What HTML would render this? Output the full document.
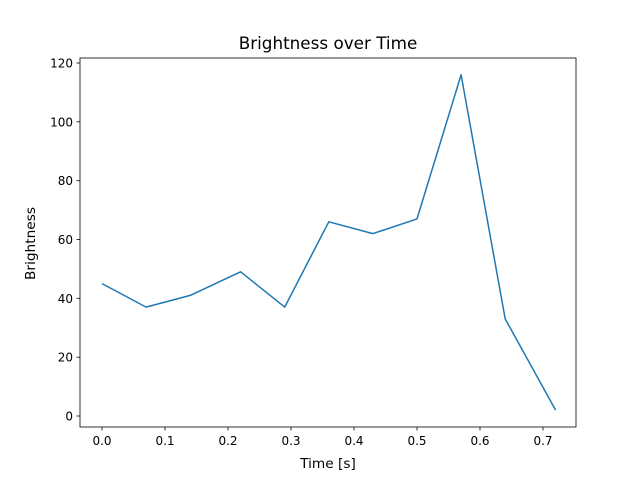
<!DOCTYPE html>
<html><head><meta charset="utf-8"><style>body{margin:0;background:#fff}svg{display:block}text{font-family:"DejaVu Sans","Liberation Sans",sans-serif;fill:#000}</style></head><body>
<svg width="640" height="480" xmlns="http://www.w3.org/2000/svg">
<rect width="640" height="480" fill="#fff"/>
<text x="328" y="49" font-size="16.8" text-anchor="middle">Brightness over Time</text>
<polyline fill="none" stroke="#1f77b4" stroke-width="1.5" stroke-linejoin="round" points="102,283.6 146.1,307.1 190.2,295.4 240.6,271.8 284.7,307.1 328.8,221.8 372.9,233.6 417,218.9 461.1,74.8 505.2,318.9 555.6,410.1"/>
<rect x="80" y="58" width="496" height="369" fill="none" stroke="#000" stroke-width="0.8"/>
<g stroke="#000" stroke-width="0.8">
<line x1="102" y1="427" x2="102" y2="430.5"/><line x1="165" y1="427" x2="165" y2="430.5"/><line x1="228" y1="427" x2="228" y2="430.5"/><line x1="291" y1="427" x2="291" y2="430.5"/><line x1="354" y1="427" x2="354" y2="430.5"/><line x1="417" y1="427" x2="417" y2="430.5"/><line x1="480" y1="427" x2="480" y2="430.5"/><line x1="543" y1="427" x2="543" y2="430.5"/>
<line x1="76.5" y1="416" x2="80" y2="416"/><line x1="76.5" y1="357.2" x2="80" y2="357.2"/><line x1="76.5" y1="298.3" x2="80" y2="298.3"/><line x1="76.5" y1="239.5" x2="80" y2="239.5"/><line x1="76.5" y1="180.7" x2="80" y2="180.7"/><line x1="76.5" y1="121.8" x2="80" y2="121.8"/><line x1="76.5" y1="63" x2="80" y2="63"/>
</g>
<g font-size="12" text-anchor="middle">
<text x="102" y="445">0.0</text><text x="165" y="445">0.1</text><text x="228" y="445">0.2</text><text x="291" y="445">0.3</text><text x="354" y="445">0.4</text><text x="417" y="445">0.5</text><text x="480" y="445">0.6</text><text x="543" y="445">0.7</text>
</g>
<g font-size="12" text-anchor="end">
<text x="73" y="420.5">0</text><text x="73" y="361.7">20</text><text x="73" y="302.8">40</text><text x="73" y="244">60</text><text x="73" y="185.2">80</text><text x="73" y="126.3">100</text><text x="73" y="67.5">120</text>
</g>
<text x="328" y="468" font-size="13.7" text-anchor="middle">Time [s]</text>
<text x="35" y="243.5" font-size="13.7" text-anchor="middle" transform="rotate(-90 35 243.5)">Brightness</text>
</svg>
</body></html>
